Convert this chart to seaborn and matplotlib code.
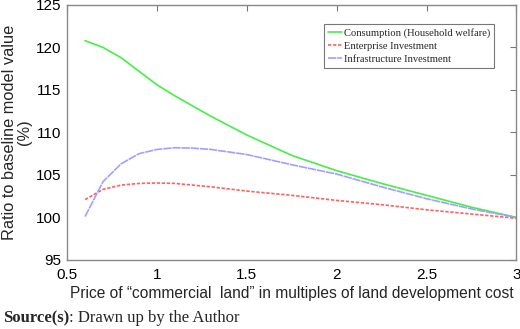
import numpy as np
import pandas as pd
import matplotlib
matplotlib.use("Agg")
import matplotlib.pyplot as plt
import seaborn as sns

price = [0.6, 0.7, 0.8, 0.9, 1.0, 1.1, 1.2, 1.3, 1.5, 1.75, 2.0, 2.25, 2.5, 2.75, 3.0]
consumption = [120.8, 120.0, 118.8, 117.2, 115.6, 114.3, 113.1, 111.9, 109.7, 107.3, 105.5, 104.0, 102.6, 101.2, 100.0]
enterprise = [102.1, 103.3, 103.8, 104.0, 104.05, 104.0, 103.8, 103.6, 103.1, 102.6, 102.0, 101.5, 100.9, 100.4, 99.9]
infrastructure = [100.1, 104.2, 106.3, 107.5, 108.0, 108.2, 108.15, 108.0, 107.4, 106.2, 105.1, 103.6, 102.2, 101.0, 100.0]

series_names = ["Consumption (Household welfare)", "Enterprise Investment", "Infrastructure Investment"]

df = pd.DataFrame({
    "price": price * 3,
    "value": consumption + enterprise + infrastructure,
    "series": [series_names[0]] * len(price) + [series_names[1]] * len(price) + [series_names[2]] * len(price),
})

sns.set_style("white")
plt.rcParams["font.family"] = ["Liberation Sans", "DejaVu Sans"]

fig, ax = plt.subplots(figsize=(5.2, 3.29), dpi=100)
fig.subplots_adjust(left=0.129, right=0.993, top=0.985, bottom=0.21)

palette = {series_names[0]: "#44f044", series_names[1]: "#ff6060", series_names[2]: "#a0a0ff"}
sns.lineplot(data=df, x="price", y="value", hue="series", style="series",
             palette=palette, dashes={series_names[0]: "", series_names[1]: (2, 1), series_names[2]: (5, 0.5)},
             linewidth=1.2, ax=ax)

ax.set_xlim(0.5, 3)
ax.set_ylim(95, 125)
ax.set_xticks([0.5, 1, 1.5, 2, 2.5, 3])
ax.set_xticklabels(["0.5", "1", "1.5", "2", "2.5", "3"])
ax.set_yticks([95, 100, 105, 110, 115, 120, 125])
ax.tick_params(direction="in", length=4, top=True, right=True, color="#777777",
               labelsize=11, labelcolor="black")
ax.tick_params(axis="x", pad=6)
ax.tick_params(axis="y", pad=4)
for s in ax.spines.values():
    s.set_color("#888888")
    s.set_linewidth(1.0)

ax.set_xlabel("Price of \u201ccommercial  land\u201d in multiples of land development cost", fontsize=11.2, labelpad=3)
ax.set_ylabel("Ratio to baseline model value\n(%)", fontsize=11.8, labelpad=3, linespacing=1.0)

leg = ax.legend(loc="upper right", bbox_to_anchor=(0.95, 0.925), frameon=True, fancybox=False,
                prop={"family": "Liberation Serif", "size": 7.6}, handlelength=1.35, handletextpad=0.2,
                borderpad=0.35, labelspacing=0.35, borderaxespad=0)
leg.get_frame().set_edgecolor("#555555")
leg.get_frame().set_linewidth(0.8)

fig.canvas.draw()
src = fig.text(0.006, 0.02, "Source(s)", fontsize=12, fontweight="bold", family="Liberation Serif")
bb = src.get_window_extent(fig.canvas.get_renderer())
fig.text(bb.x1 / fig.bbox.width, 0.02, ": Drawn up by the Author", fontsize=12, family="Liberation Serif")

fig.savefig("out.png", dpi=100)
